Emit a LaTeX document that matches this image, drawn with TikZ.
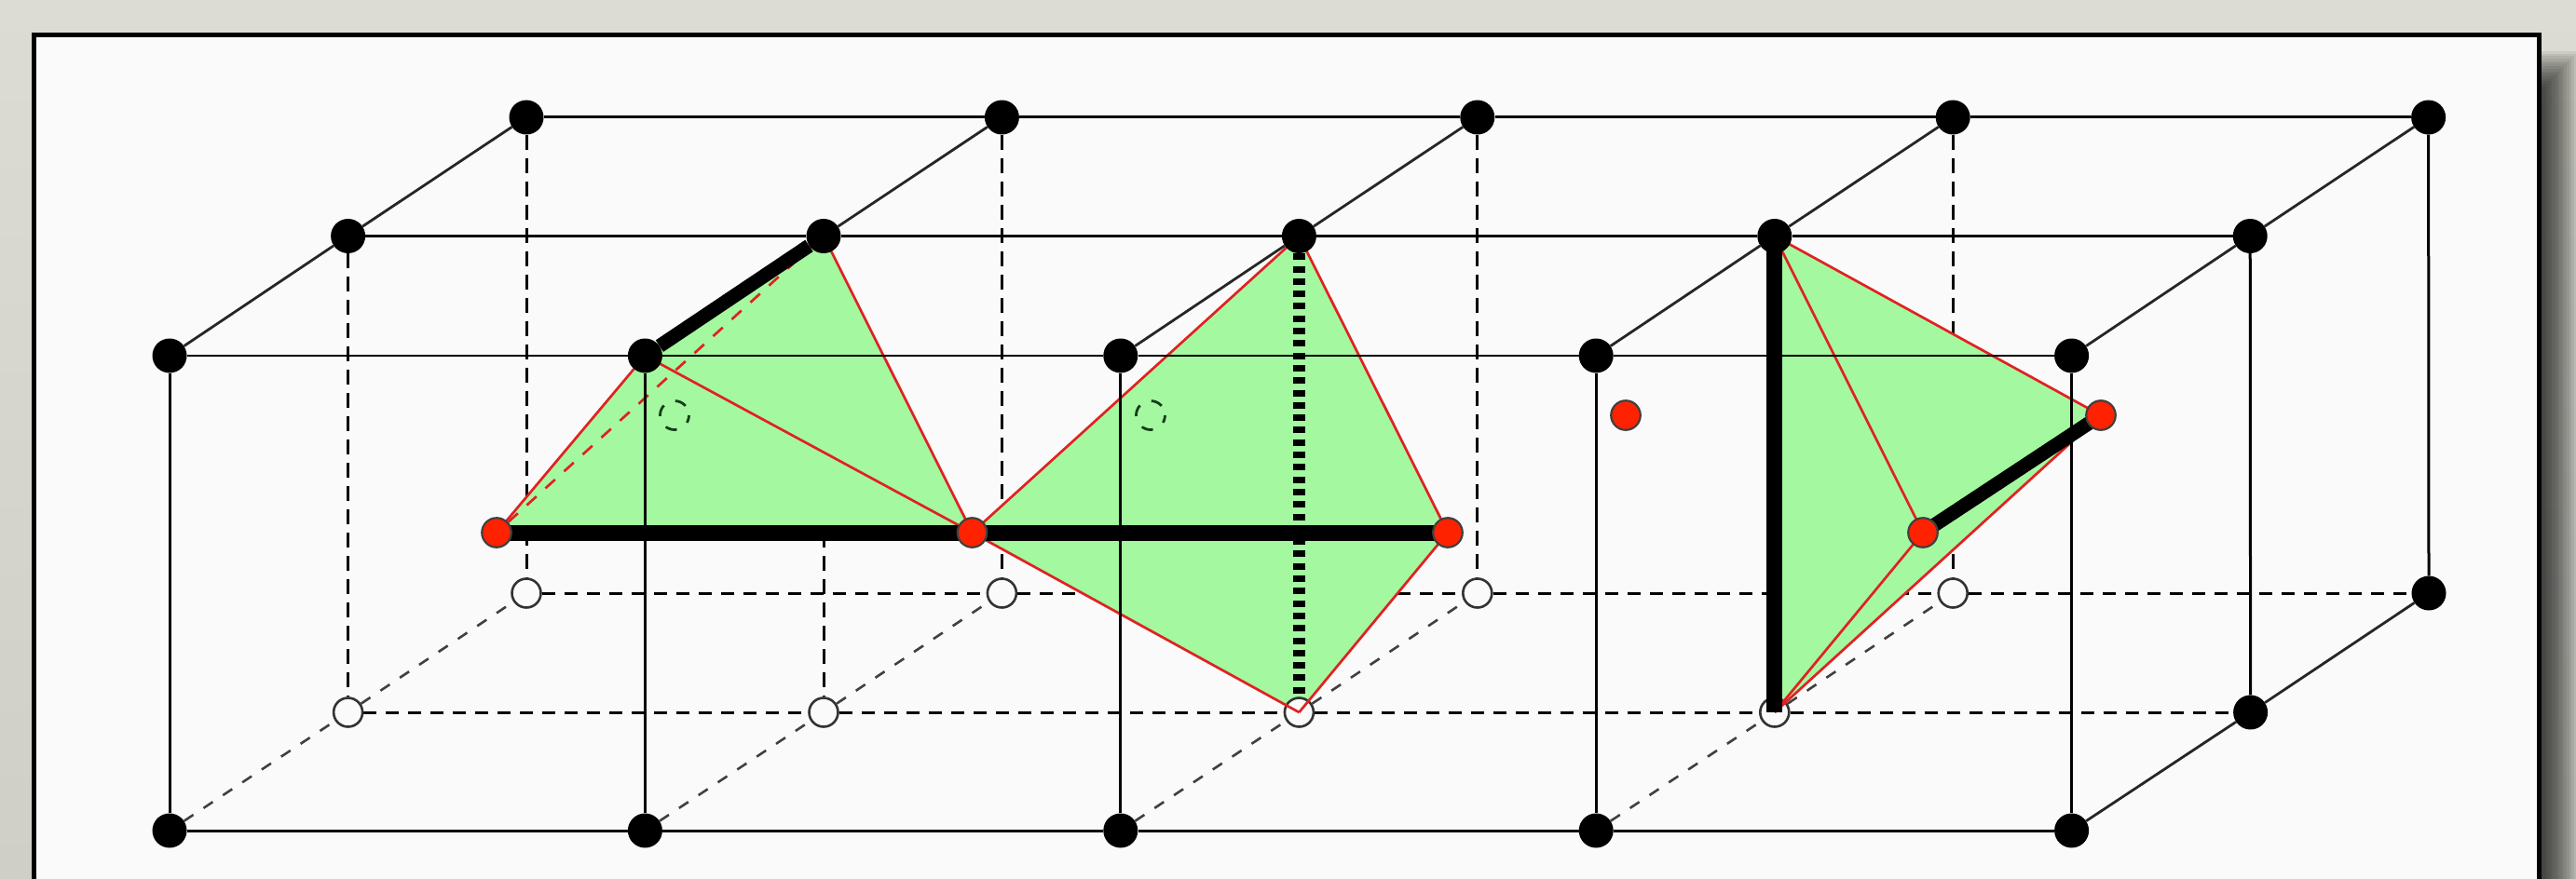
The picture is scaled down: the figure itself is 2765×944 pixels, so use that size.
\documentclass[tikz,border=0pt]{standalone}
\usetikzlibrary{backgrounds}
\pgfdeclarelayer{lbg}
\pgfdeclarelayer{lgreen}
\pgfdeclarelayer{lwhite}
\pgfdeclarelayer{lred}
\pgfdeclarelayer{lline}
\pgfsetlayers{lbg,lgreen,lwhite,lred,lline,main}
\definecolor{pagebgtop}{HTML}{DCDCD5}
\definecolor{pagebgbot}{HTML}{CFCFC7}
\definecolor{panelc}{HTML}{FAFAFA}
\definecolor{greenc}{HTML}{A4F9A0}
\definecolor{redc}{HTML}{E02222}
\definecolor{rednode}{HTML}{FF2200}
\definecolor{ringc}{HTML}{153D1C}
\tikzset{
  x=1pt,y=-1pt,
  blacknode/.style={circle,fill=black,inner sep=0pt,minimum size=37pt},
  whitenode/.style={circle,draw=black!80,line width=2.6pt,fill=panelc,inner sep=0pt,minimum size=31pt},
  rednodest/.style={circle,draw=black!75,line width=2.2pt,fill=rednode,inner sep=0pt,minimum size=31.5pt},
  ringnode/.style={circle,draw=ringc,line width=2.8pt,inner sep=0pt,minimum size=31pt,dash pattern=on 12.5pt off 13.5pt,dash phase=15pt},
  solidv/.style={black,line width=3pt},
  solidhf/.style={black,line width=2.7pt},
  solidhm/.style={black,line width=3.6pt},
  solidd/.style={black!85,line width=2.8pt},
  hiddenh/.style={black,line width=3pt,dash pattern=on 14pt off 10pt},
  hiddenv/.style={black,line width=3pt,dash pattern=on 16pt off 9pt},
  hiddend/.style={black!75,line width=2.6pt,dash pattern=on 12pt off 13pt},
  facefill/.style={fill=greenc},
  rededge/.style={redc,line width=2.7pt},
  reddash/.style={redc,line width=2.7pt,dash pattern=on 14pt off 13pt},
  thickbar/.style={black,line width=17pt},
  thickdiag/.style={black,line width=15pt},
  thickdot/.style={black,line width=13pt,dash pattern=on 7pt off 6.3pt},
}
\begin{document}
\begin{tikzpicture}
\useasboundingbox (0,0) rectangle (2765,944);
\begin{pgfonlayer}{lbg}
  \clip (0,0) rectangle (2765,944);
  \shade[top color=pagebgtop,bottom color=pagebgbot,middle color=pagebgbot!50!pagebgtop] (0,0) rectangle (2765,944);
  \foreach \i in {0,...,15}{
    \pgfmathsetmacro{\sx}{2768-2.6*\i}
    \pgfmathsetmacro{\sy}{55+2.7*\i}
    \fill[black,opacity=.068] (2700,\sy) rectangle (\sx,960);
  }
  \fill[panelc,draw=black,line width=5pt] (36.5,37.5) rectangle (2725.5,1000);
\end{pgfonlayer}

% lattice nodes
\foreach \i in {0,...,4}{
  \pgfmathsetmacro{\xf}{182+510.4*\i}
  \pgfmathsetmacro{\xm}{373.6+510.4*\i}
  \pgfmathsetmacro{\xb}{565+510.4*\i}
  \node[blacknode] (ft\i) at (\xf,382) {};
  \node[blacknode] (fb\i) at (\xf,892) {};
  \node[blacknode] (mt\i) at (\xm,253.5) {};
  \node[blacknode] (bt\i) at (\xb,126) {};
}
\foreach \i in {0,...,3}{
  \pgfmathsetmacro{\xm}{373.6+510.4*\i}
  \pgfmathsetmacro{\xb}{565+510.4*\i}
  \begin{pgfonlayer}{lwhite}
    \node[whitenode] (mb\i) at (\xm,765) {};
    \node[whitenode] (bb\i) at (\xb,637) {};
  \end{pgfonlayer}
}
\node[blacknode] (mb4) at (2415.6,765) {};
\node[blacknode] (bb4) at (2607,637) {};

% red nodes and rings
\node[rednodest] (ra) at (533,572) {};
\node[rednodest] (rb) at (1043.5,572) {};
\node[rednodest] (rc) at (1554,572) {};
\node[rednodest] (rd) at (2064,572) {};
\node[rednodest] (re) at (1745,446) {};
\node[rednodest] (rf) at (2255,446) {};
\node[ringnode] (ca) at (724,446) {};
\node[ringnode] (cb) at (1235,446) {};

% hidden lines
\begin{pgfonlayer}{lbg}
  \foreach \a/\b in {0/1,1/2,2/3,3/4}{
    \draw[hiddenh] (mb\a) -- (mb\b);
    \draw[hiddenh] (bb\a) -- (bb\b);
  }
  \foreach \i in {0,...,3}{
    \draw[hiddenv] (mt\i) -- (mb\i);
    \draw[hiddenv] (bt\i) -- (bb\i);
  }
  \foreach \i in {0,...,3}{
    \draw[hiddend] (fb\i) -- (mb\i);
    \draw[hiddend] (mb\i) -- (bb\i);
  }
\end{pgfonlayer}

% faces
\begin{pgfonlayer}{lgreen}
  \fill[facefill] (ra.center) -- (ft1.center) -- (mt1.center) -- (rb.center) -- cycle;
  \fill[facefill] (rb.center) -- (mt2.center) -- (rc.center) -- (mb2.center) -- cycle;
  \fill[facefill] (mt3.center) -- (rf.center) -- (mb3.center) -- cycle;
\end{pgfonlayer}

% red edges
\begin{pgfonlayer}{lred}
  \draw[rededge] (ra.center) -- (ft1.center);
  \draw[rededge] (ft1.center) -- (rb.center);
  \draw[rededge] (mt1.center) -- (rb.center);
  \draw[reddash] (ra) -- (mt1);
  \draw[rededge] (rb.center) -- (mt2.center);
  \draw[rededge] (mt2.center) -- (rc.center);
  \draw[rededge] (rc.center) -- (mb2.center);
  \draw[rededge] (mb2.center) -- (rb.center);
  \draw[rededge] (mt3.center) -- (rf.center);
  \draw[rededge] (mt3.center) -- (rd.center);
  \draw[rededge] (rd.center) -- (mb3.center);
  \draw[rededge] (rf.center) -- (mb3.center);
\end{pgfonlayer}

% solid lines
\begin{pgfonlayer}{lline}
  \foreach \a/\b in {0/1,1/2,2/3,3/4}{
    \draw[solidhf] (ft\a) -- (ft\b);
    \draw[solidv] (fb\a) -- (fb\b);
    \draw[solidhm] (mt\a) -- (mt\b);
    \draw[solidv] (bt\a) -- (bt\b);
  }
  \foreach \i in {0,...,4}{
    \draw[solidv] (ft\i) -- (fb\i);
    \draw[solidd] (mt\i) -- (bt\i);
  }
  \foreach \i in {0,2,3,4}{
    \draw[solidd] (ft\i) -- (mt\i);
  }
  \draw[solidv] (mt4) -- (mb4);
  \draw[solidv] (bt4) -- (bb4);
  \draw[solidd] (fb4) -- (mb4);
  \draw[solidd] (mb4) -- (bb4);
  \draw[thickdiag] (ft1) -- (mt1);
  \draw[thickbar] (ra.center) -- (rc.center);
  \draw[thickdot] (mt2) -- (mb2);
  \draw[thickbar] (mt3.center) -- (mb3.center);
  \draw[thickdiag] (rd.center) -- (rf.center);
\end{pgfonlayer}
\end{tikzpicture}
\end{document}
